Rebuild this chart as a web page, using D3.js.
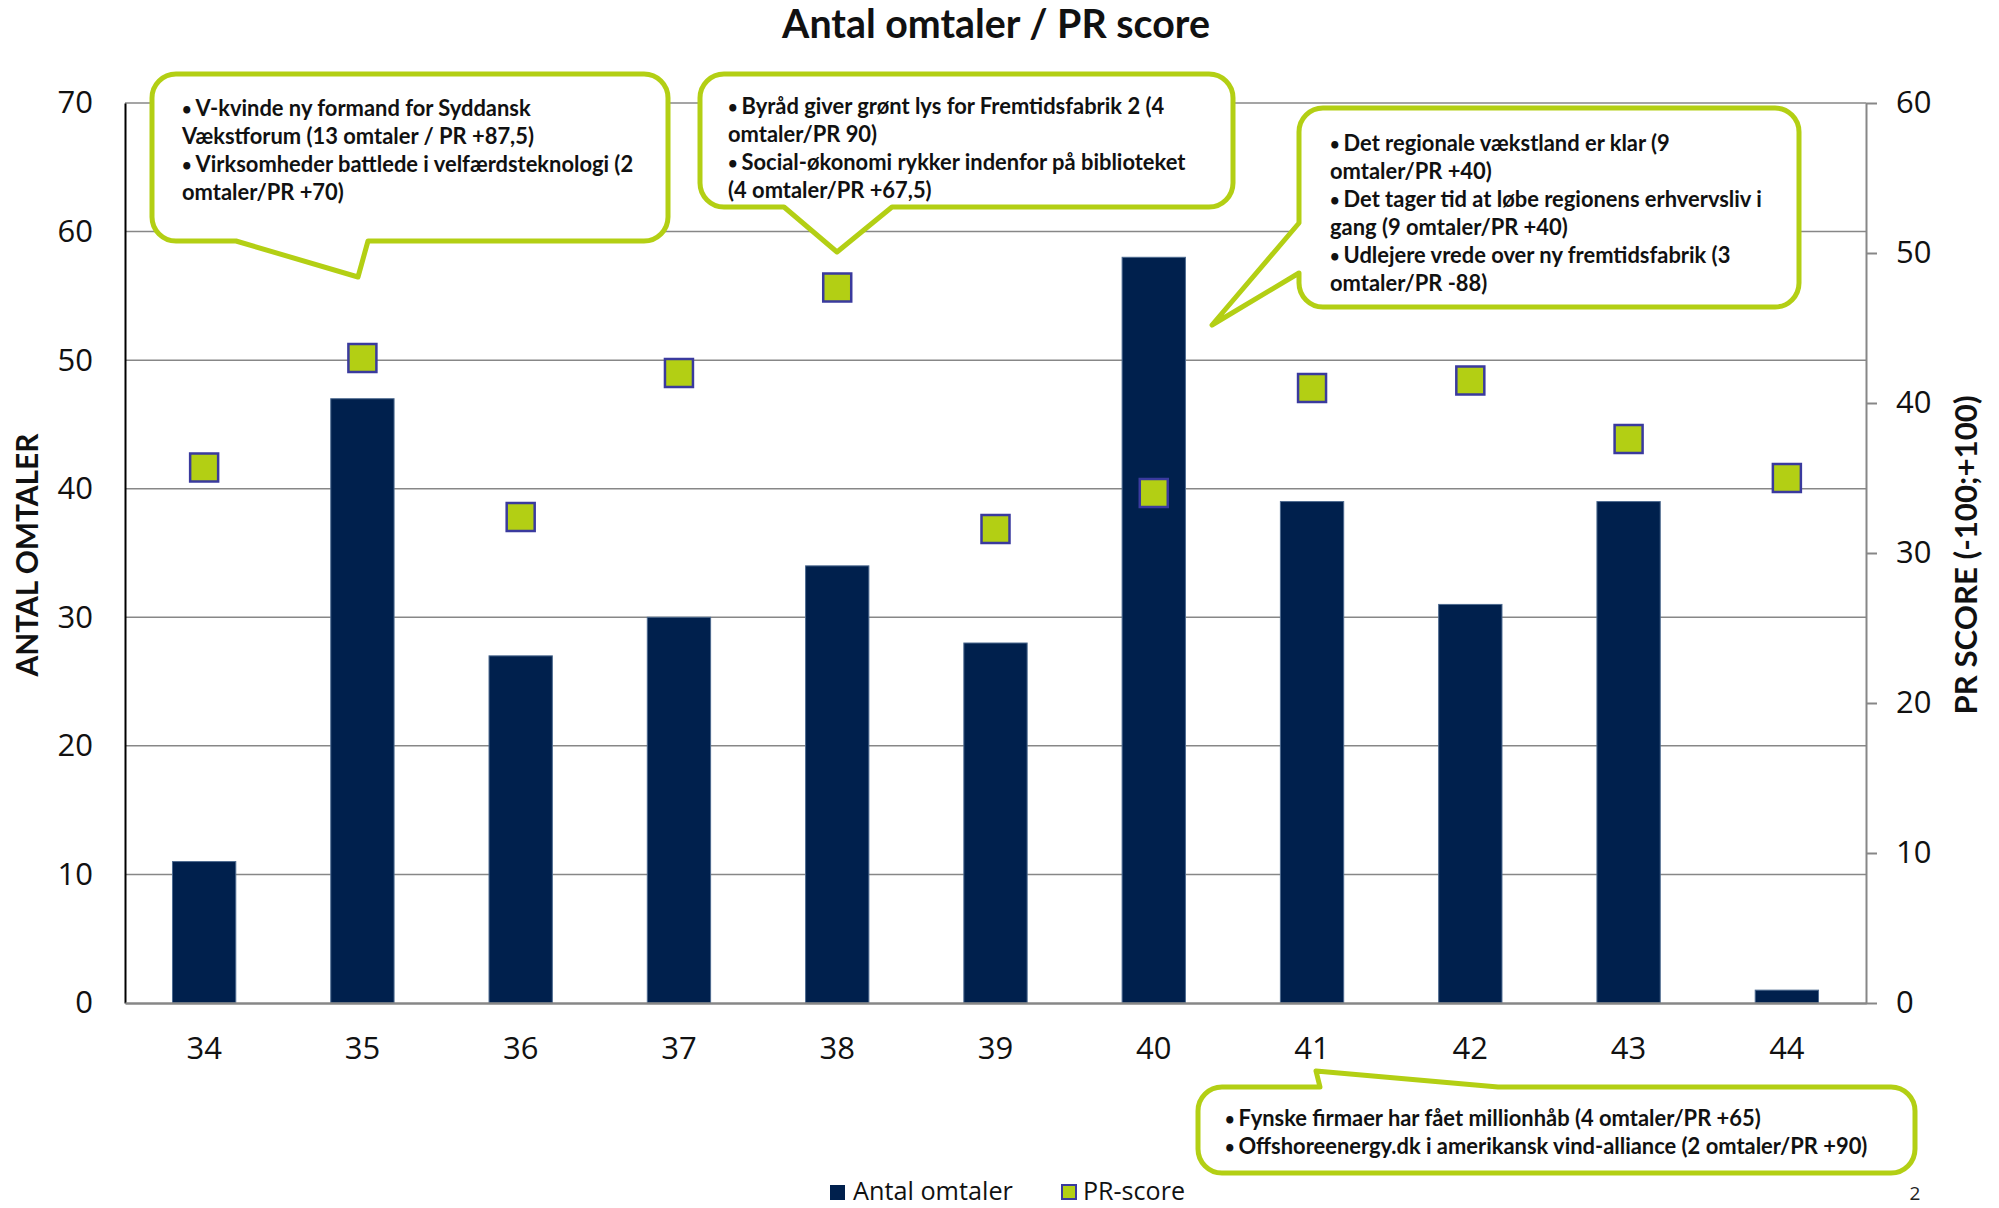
<!DOCTYPE html>
<html>
<head>
<meta charset="utf-8">
<script src="https://cdn.jsdelivr.net/npm/d3@7"></script>
<style>
	body { margin: 0; background: #fff; }
	svg { display: block; }
</style>
</head>
<body>
<div id="chart"></div>
<script>
// Antal omtaler / PR score

// -----DONNÉES-----
var semaines = ["34", "35", "36", "37", "38", "39", "40", "41", "42", "43", "44"];
var antalOmtaler = [11, 47, 27, 30, 34, 28, 58, 39, 31, 39, 1];
var prScore = [35.7, 43.0, 32.4, 42.0, 47.7, 31.6, 34.0, 41.0, 41.5, 37.6, 35.0];
var ticksGauche = [0, 10, 20, 30, 40, 50, 60, 70];
var ticksDroite = [0, 10, 20, 30, 40, 50, 60];

// textes des bulles
var bulle1 = ["• V-kvinde ny formand for Syddansk", "Vækstforum (13 omtaler / PR +87,5)",
	"• Virksomheder battlede i velfærdsteknologi (2", "omtaler/PR +70)"];
var bulle2 = ["• Byråd giver grønt lys for Fremtidsfabrik 2 (4", "omtaler/PR 90)",
	"• Social-økonomi rykker indenfor på biblioteket", "(4 omtaler/PR +67,5)"];
var bulle3 = ["• Det regionale vækstland er klar (9", "omtaler/PR +40)",
	"• Det tager tid at løbe regionens erhvervsliv i", "gang (9 omtaler/PR +40)",
	"• Udlejere vrede over ny fremtidsfabrik (3", "omtaler/PR -88)"];
var bulle4 = ["• Fynske firmaer har fået millionhåb (4 omtaler/PR +65)",
	"• Offshoreenergy.dk i amerikansk vind-alliance (2 omtaler/PR +90)"];

// -----MISE EN PAGE-----
var width = 1999,
	height = 1208,
	xGauche = 125,
	xDroite = 1866,
	yHaut = 103,
	yBas = 1003;

var vert = "#b3cf14",
	marine = "#00204d",
	gris = "#878787",
	police = "'Open Sans', sans-serif",
	policeGras = "Lato, 'Open Sans', sans-serif";

var svg = d3.select("#chart").append("svg")
	.attr("width", width)
	.attr("height", height);

var x = d3.scaleBand()
	.domain(semaines)
	.range([xGauche, xDroite])
	.paddingInner(0.6)
	.paddingOuter(0.3);

var yG = d3.scaleLinear().domain([0, 70]).range([yBas, yHaut]);
var yD = d3.scaleLinear().domain([0, 60]).range([yBas, yHaut]);

// ajuster la taille d'un texte à une largeur
function ajuster(sel, w) {
	var len = sel.node().getComputedTextLength();
	var fs = parseFloat(sel.attr("font-size"));
	sel.attr("font-size", fs * w / len);
	return fs * w / len;
}

// titre
var titre = svg.append("text")
	.attr("x", 996).attr("y", 38)
	.attr("text-anchor", "middle")
	.attr("font-family", policeGras)
	.attr("font-weight", "bold")
	.attr("font-size", 36)
	.attr("fill", "#111")
	.text("Antal omtaler / PR score");
ajuster(titre, 428);

// lignes de grille
svg.append("g").attr("class", "grille")
	.selectAll("line")
	.data(ticksGauche.slice(1))
	.enter().append("line")
	.attr("x1", xGauche).attr("x2", xDroite)
	.attr("y1", function (d) { return yG(d); })
	.attr("y2", function (d) { return yG(d); })
	.attr("stroke", gris)
	.attr("stroke-width", 1.5);

// barres
svg.append("g").attr("class", "barres")
	.selectAll("rect")
	.data(antalOmtaler)
	.enter().append("rect")
	.attr("x", function (d, i) { return x(semaines[i]); })
	.attr("width", x.bandwidth())
	.attr("y", function (d) { return yG(d); })
	.attr("height", function (d) { return yG(0) - yG(d); })
	.attr("fill", marine)
	.attr("stroke", "#4d6a8f")
	.attr("stroke-width", 1);

// axe gauche
var axeG = svg.append("g")
	.attr("transform", "translate(" + xGauche + ",0)")
	.call(d3.axisLeft(yG).tickValues(ticksGauche).tickSize(0).tickPadding(32));
axeG.select(".domain").attr("stroke", "#000").attr("stroke-width", 2);
axeG.selectAll("text").attr("font-family", police).attr("font-size", 31).attr("fill", "#111");

// axe droit
var axeD = svg.append("g")
	.attr("transform", "translate(" + xDroite + ",0)")
	.call(d3.axisRight(yD).tickValues(ticksDroite).tickSize(11).tickSizeOuter(0).tickPadding(19));
axeD.select(".domain").attr("stroke", gris).attr("stroke-width", 2);
axeD.selectAll("line").attr("stroke", gris).attr("stroke-width", 2);
axeD.selectAll("text").attr("font-family", police).attr("font-size", 31).attr("fill", "#111");

// axe du bas
var axeB = svg.append("g")
	.attr("transform", "translate(0," + yBas + ")")
	.call(d3.axisBottom(x).tickSize(0).tickPadding(34));
axeB.select(".domain").attr("stroke", gris).attr("stroke-width", 2.5);
axeB.selectAll("text").attr("font-family", police).attr("font-size", 31).attr("fill", "#111");

// titres des axes
var titreG = svg.append("text")
	.attr("transform", "translate(38,555) rotate(-90)")
	.attr("text-anchor", "middle")
	.attr("font-family", policeGras)
	.attr("font-weight", "bold")
	.attr("font-size", 28)
	.attr("fill", "#111")
	.text("ANTAL OMTALER");
ajuster(titreG, 243);

var titreD = svg.append("text")
	.attr("transform", "translate(1977,555) rotate(-90)")
	.attr("text-anchor", "middle")
	.attr("font-family", policeGras)
	.attr("font-weight", "bold")
	.attr("font-size", 28)
	.attr("fill", "#111")
	.text("PR SCORE (-100;+100)");
ajuster(titreD, 319);

// marqueurs PR-score
var cote = 28;
svg.append("g").attr("class", "marqueurs")
	.selectAll("rect")
	.data(prScore)
	.enter().append("rect")
	.attr("x", function (d, i) { return x(semaines[i]) + x.bandwidth() / 2 - cote / 2; })
	.attr("y", function (d) { return yD(d) - cote / 2; })
	.attr("width", cote)
	.attr("height", cote)
	.attr("fill", vert)
	.attr("stroke", "#3a3a9e")
	.attr("stroke-width", 2.5);

// -----BULLES-----
// chemin d'un rectangle arrondi avec une pointe sur un côté
function cheminBulle(b) {
	var r = 24, p = d3.path(), t = b.pointe;
	p.moveTo(b.x0 + r, b.y0);
	if (t.cote == "haut") {
		p.lineTo(t.a, b.y0); p.lineTo(t.x, t.y); p.lineTo(t.b, b.y0);
	}
	p.lineTo(b.x1 - r, b.y0);
	p.arcTo(b.x1, b.y0, b.x1, b.y0 + r, r);
	p.lineTo(b.x1, b.y1 - r);
	p.arcTo(b.x1, b.y1, b.x1 - r, b.y1, r);
	if (t.cote == "bas") {
		p.lineTo(t.b, b.y1); p.lineTo(t.x, t.y); p.lineTo(t.a, b.y1);
	}
	p.lineTo(b.x0 + r, b.y1);
	p.arcTo(b.x0, b.y1, b.x0, b.y1 - r, r);
	if (t.cote == "gauche") {
		p.lineTo(b.x0, t.b); p.lineTo(t.x, t.y); p.lineTo(b.x0, t.a);
	}
	p.lineTo(b.x0, b.y0 + r);
	p.arcTo(b.x0, b.y0, b.x0 + r, b.y0, r);
	p.closePath();
	return p.toString();
}

var bulles = [
	{ lignes: bulle1, x0: 152, y0: 74, x1: 668, y1: 241, tx: 182, ty: 108,
		pointe: { cote: "bas", a: 236, b: 368, x: 358, y: 277 } },
	{ lignes: bulle2, x0: 700, y0: 74, x1: 1233, y1: 207, tx: 728, ty: 106,
		pointe: { cote: "bas", a: 784, b: 892, x: 837, y: 252 } },
	{ lignes: bulle3, x0: 1299, y0: 108, x1: 1799, y1: 307, tx: 1330, ty: 143,
		pointe: { cote: "gauche", a: 223, b: 273, x: 1212, y: 325 } },
	{ lignes: bulle4, x0: 1198, y0: 1087, x1: 1915, y1: 1173, tx: 1225, ty: 1118,
		pointe: { cote: "haut", a: 1320, b: 1498, x: 1316, y: 1071 } }
];

// écrire une ligne avec une puce plus petite
function ecrireLigne(sel, d) {
	if (d.indexOf("• ") === 0) {
		sel.append("tspan").attr("font-size", "0.75em").attr("dy", "-0.05em").text("• ");
		sel.append("tspan").attr("dy", "0.04em").text(d.slice(2));
	} else {
		sel.text(d);
	}
}

// taille de police commune, d'après la ligne la plus longue
var essai = svg.append("text")
	.attr("font-family", policeGras).attr("font-weight", "bold")
	.attr("font-size", 20);
ecrireLigne(essai, bulle4[1]);
var taille = ajuster(essai, 643);
essai.remove();

var gBulles = svg.append("g").attr("class", "bulles")
	.selectAll("g")
	.data(bulles)
	.enter().append("g");

gBulles.append("path")
	.attr("d", cheminBulle)
	.attr("fill", "#fff")
	.attr("stroke", vert)
	.attr("stroke-width", 5)
	.attr("stroke-linejoin", "round");

gBulles.each(function (b) {
	d3.select(this).selectAll("text")
		.data(b.lignes)
		.enter().append("text")
		.attr("x", b.tx)
		.attr("y", function (d, i) { return b.ty + i * 28 + taille * 0.36; })
		.attr("font-family", policeGras)
		.attr("font-weight", "bold")
		.attr("font-size", taille)
		.attr("fill", "#111")
		.each(function (d) { ecrireLigne(d3.select(this), d); });
});

// -----LÉGENDE-----
var legende = svg.append("g").attr("class", "legende");
legende.append("rect")
	.attr("x", 830).attr("y", 1185)
	.attr("width", 15).attr("height", 15)
	.attr("fill", marine);
var leg1 = legende.append("text")
	.attr("x", 853).attr("y", 1200)
	.attr("font-family", police).attr("font-size", 24)
	.attr("fill", "#111")
	.text("Antal omtaler");
ajuster(leg1, 160);
legende.append("rect")
	.attr("x", 1062).attr("y", 1185)
	.attr("width", 14).attr("height", 14)
	.attr("fill", vert)
	.attr("stroke", "#3a3a9e")
	.attr("stroke-width", 2);
var leg2 = legende.append("text")
	.attr("x", 1083).attr("y", 1200)
	.attr("font-family", police).attr("font-size", 24)
	.attr("fill", "#111")
	.text("PR-score");
ajuster(leg2, 102);

// numéro de page
svg.append("text")
	.attr("x", 1915).attr("y", 1200)
	.attr("text-anchor", "middle")
	.attr("font-family", police).attr("font-size", 19)
	.attr("fill", "#222")
	.text("2");
</script>
</body>
</html>
